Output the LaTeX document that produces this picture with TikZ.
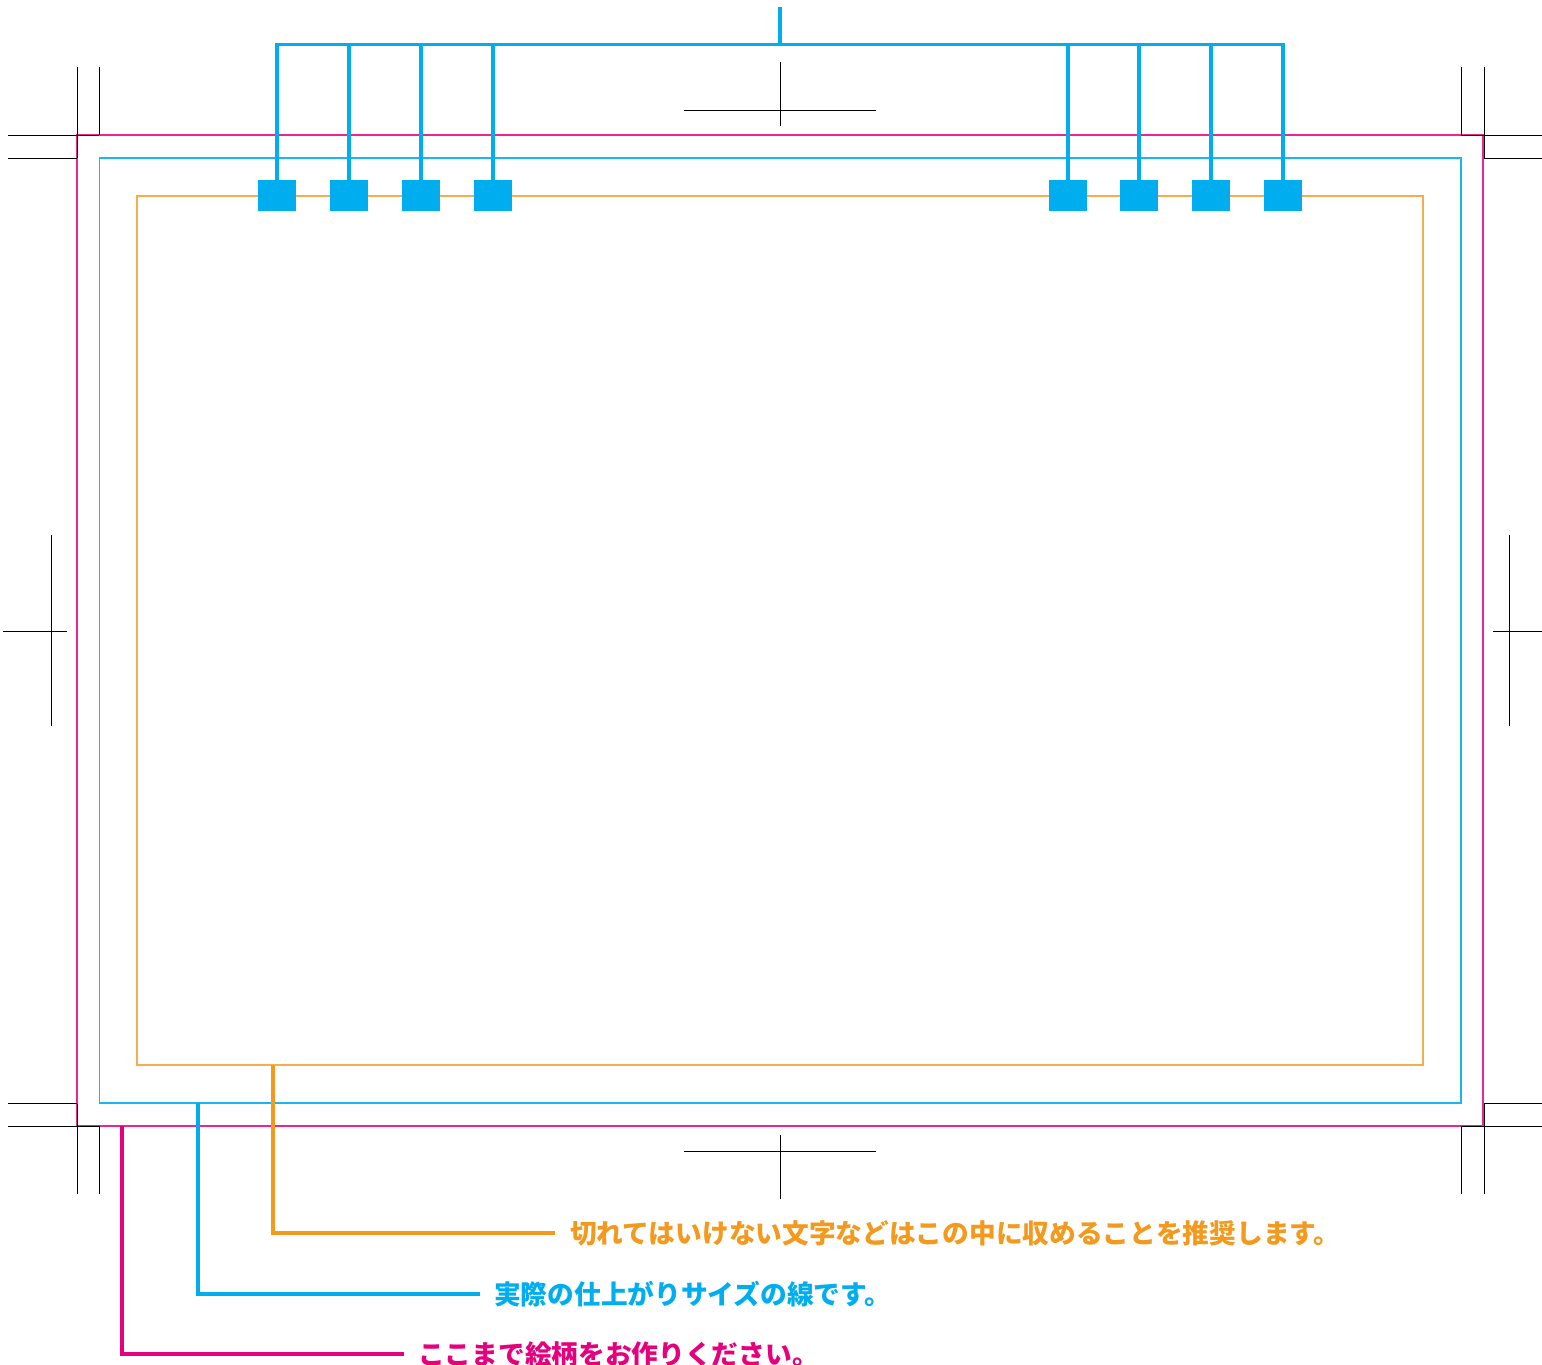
\documentclass[tikz,border=0pt]{standalone}
\usepackage{fontspec}
\newfontfamily\cjk{Noto Sans CJK JP}
\definecolor{bleed}{HTML}{E6007E}
\definecolor{trim}{HTML}{00AEEF}
\definecolor{safe}{HTML}{F39A1E}
\begin{document}
\begin{tikzpicture}[x=1pt,y=-1pt,
  crop/.style={draw=black,line width=0.9pt},
  frame/.style={line width=1.15pt},
  bus/.style={draw=trim,line width=3.6pt},
  leader/.style={line width=3.6pt},
  pad/.style={fill=trim,draw=none,minimum width=38pt,minimum height=31pt,inner sep=0pt},
  label/.style={anchor=west,inner sep=0pt,font=\cjk\bfseries\fontsize{26.7pt}{29pt}\selectfont}]
\useasboundingbox (0,0) rectangle (1542,1365);
% frames
\draw[frame,draw=bleed!85] (77,135) rectangle (1483,1126);
\draw[frame,draw=trim!90] (99.5,158) rectangle (1461,1103);
\draw[frame,draw=safe!80] (137,196) rectangle (1423,1065);
% corner crop marks
\draw[crop] (77,67) -- (77,158) (99,67) -- (99,135) (8,135) -- (99,135) (8,158) -- (77,158);
\draw[crop] (1461,67) -- (1461,135) (1484,67) -- (1484,158) (1461,135) -- (1542,135) (1484,158) -- (1542,158);
\draw[crop] (8,1103.5) -- (77,1103.5) (8,1126) -- (99,1126) (77,1103.5) -- (77,1194) (99,1126) -- (99,1194);
\draw[crop] (1484,1103.5) -- (1542,1103.5) (1461,1126) -- (1542,1126) (1461,1126) -- (1461,1194) (1484,1103.5) -- (1484,1194);
% center marks
\draw[crop] (780,62) -- (780,126) (684,110) -- (876,110);
\draw[crop] (780,1135) -- (780,1199) (684,1151) -- (876,1151);
\draw[crop] (51,535) -- (51,726) (3,631) -- (67,631);
\draw[crop] (1509,535) -- (1509,726) (1493,631) -- (1542,631);
% pads
\foreach \n/\x in {a/277,b/349,c/421,d/493,e/1068,f/1139,g/1211,h/1283}{
  \node[pad] (\n) at (\x,195.5) {};
}
\coordinate (top) at (780,7);
\coordinate (hub) at (780,44.5);
\draw[bus] (top) -- (hub);
\draw[bus] (a.north) -- (a.north |- hub) -- (h.north |- hub) -- (h.north);
\foreach \n in {b,c,d,e,f,g}{ \draw[bus] (\n.north) -- (\n.north |- hub); }
% labels
\node[label,text=safe] (ts) at (570,1233) {切れてはいけない文字などはこの中に収めることを推奨します。};
\node[label,text=trim] (tt) at (494,1294) {実際の仕上がりサイズの線です。};
\node[label,text=bleed] (tb) at (418,1354) {ここまで絵柄をお作りください。};
\coordinate (ls) at (273,1065);
\coordinate (lt) at (198,1103);
\coordinate (lb) at (122,1126);
\draw[leader,draw=safe] (ls) -- (ls |- ts.west) -- ([xshift=-15pt]ts.west);
\draw[leader,draw=trim] (lt) -- (lt |- tt.west) -- ([xshift=-14pt]tt.west);
\draw[leader,draw=bleed] (lb) -- (lb |- tb.west) -- ([xshift=-14pt]tb.west);
\end{tikzpicture}
\end{document}
